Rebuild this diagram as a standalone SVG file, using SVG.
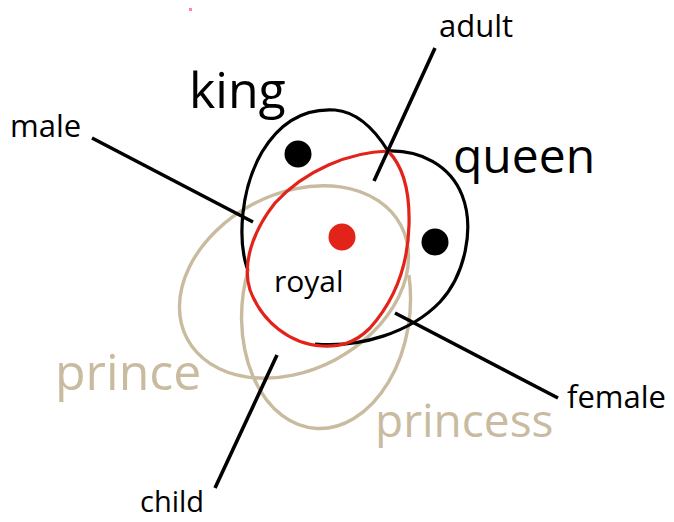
<svg xmlns="http://www.w3.org/2000/svg" width="674" height="522" viewBox="0 0 674 522">
<style>
  .set { fill: none; stroke-width: 3.2; }
  .black { stroke: #000; }
  .red { stroke: #e2231a; }
  .beige { stroke: #c9bb9f; stroke-width: 3.4; }
  .conn line { stroke: #000; stroke-width: 3.6; }
  text { font-family: "Open Sans", "Noto Sans", sans-serif; }
  .lbl { font-size: 30px; fill: #000; }
  .big { font-size: 50px; fill: #000; }
  .bigb { font-size: 50px; fill: #c9bb9f; }
</style>
<rect width="674" height="522" fill="#fff"/>
<rect x="189" y="8" width="3" height="3" fill="#ff4fa3" opacity="0.7"/>

<g id="prince">
  <ellipse class="set beige" cx="294" cy="282" rx="121" ry="88" transform="rotate(-28 294 282)"/>
  <text class="bigb" x="55" y="390">prince</text>
</g>
<g id="princess">
  <path class="set beige" d="M 248.6 268.4 A 84 121 6 1 0 408.9 275.1"/>
  <text class="bigb" x="375" y="437" style="font-size:46px">princess</text>
</g>
<g id="king-queen">
  <path class="set black" d="M 247 268 C 238 240, 240 190, 262 152 C 280 122, 305 108, 335 110 C 358 112, 375 130, 388 151 C 420 150, 450 165, 462 195 C 475 228, 465 275, 440 302 C 410 333, 360 348, 315 344"/>
</g>
<g id="royal">
  <path class="set red" d="M 388 151 C 402 165, 410 190, 409 225 C 408 265, 395 300, 370 328 C 355 343, 340 347, 322 346 C 290 344, 262 322, 250 290 C 242 265, 252 232, 275 203 C 305 170, 350 152, 388 151 Z"/>
  <circle cx="342" cy="237" r="13.5" fill="#e2231a"/>
  <text class="lbl" x="274" y="292">royal</text>
</g>
<g id="king">
  <circle cx="298" cy="154" r="13.5" fill="#000"/>
  <text class="big" x="189" y="108">king</text>
</g>
<g id="queen">
  <circle cx="435" cy="242" r="13.5" fill="#000"/>
  <text class="big" x="453" y="173" style="font-size:48px">queen</text>
</g>

<g id="connectors" class="conn">
  <line x1="92" y1="138" x2="253" y2="222"/>
  <line x1="435" y1="48" x2="374" y2="181"/>
  <line x1="395" y1="313" x2="558" y2="398"/>
  <line x1="277" y1="355" x2="215" y2="488"/>
</g>

<g id="labels">
  <text class="lbl" x="10" y="137" style="font-size:31px">male</text>
  <text class="lbl" x="439" y="37" style="font-size:31px">adult</text>
  <text class="lbl" x="567" y="408" style="font-size:31px">female</text>
  <text class="lbl" x="140" y="512" style="font-size:29px">child</text>
</g>
</svg>
